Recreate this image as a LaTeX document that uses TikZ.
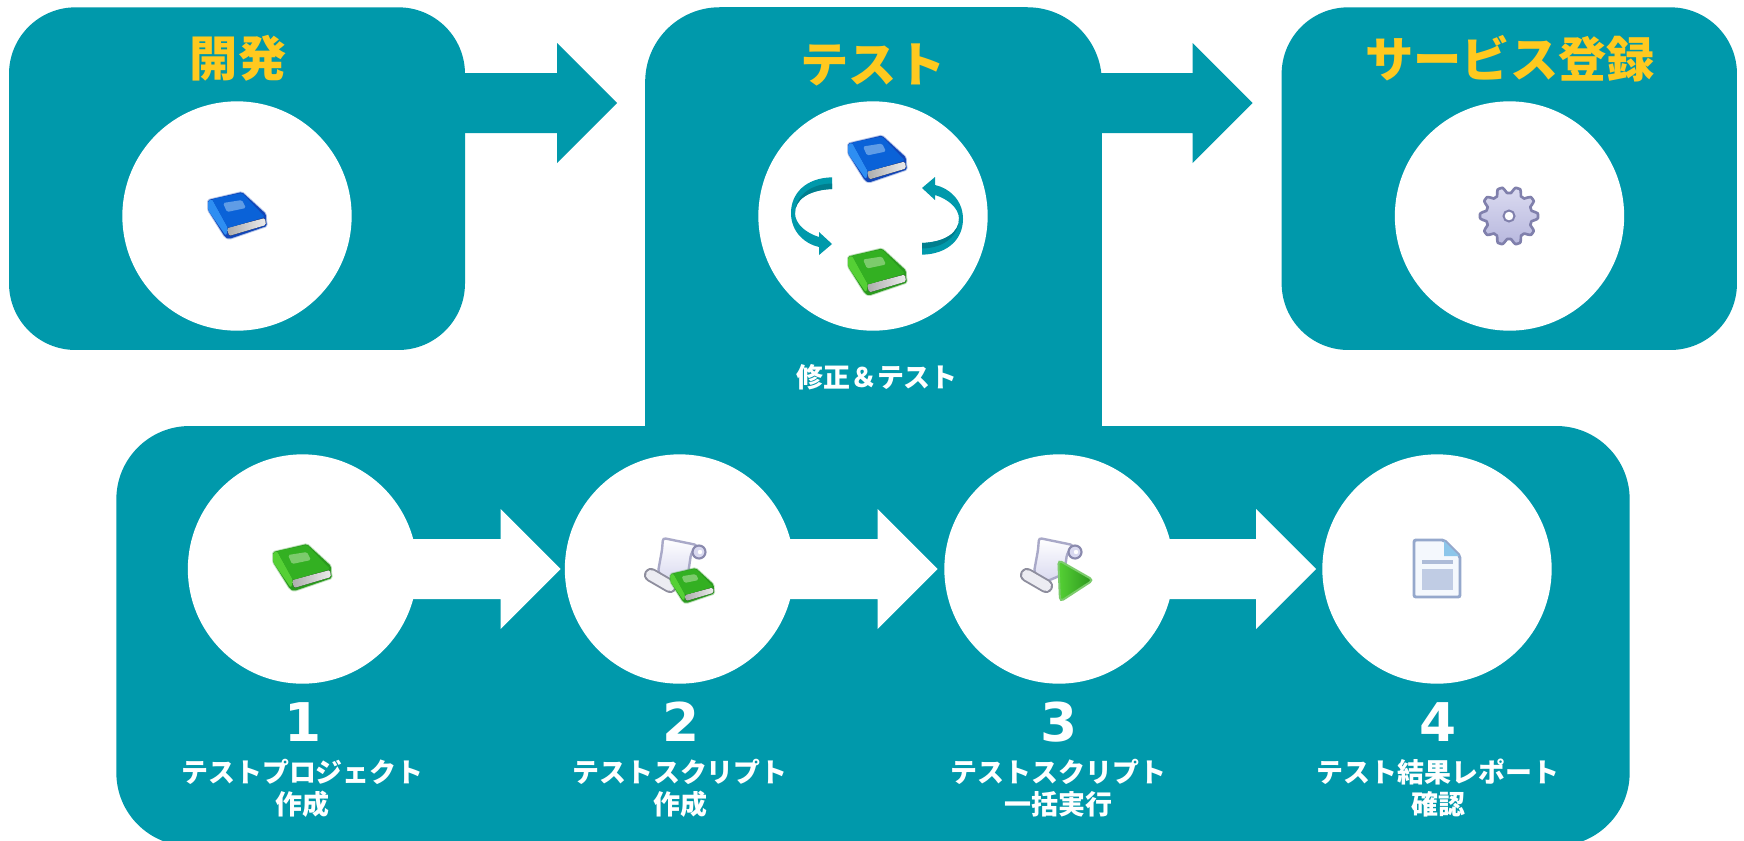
\documentclass[tikz,border=0pt]{standalone}
\usepackage{fontspec}
\usetikzlibrary{calc}
\newfontfamily\cjkfont{Noto Sans CJK JP}
\newfontfamily\digitfont{DejaVu Sans}
\definecolor{teal0}{HTML}{0099AB}
\definecolor{tealdark}{HTML}{007E8E}
\definecolor{gold0}{HTML}{FFC91F}
\definecolor{bluedark}{HTML}{1246B8}
\definecolor{bluemid}{HTML}{0A62D8}
\definecolor{bluelight}{HTML}{2E8EF2}
\definecolor{bluelabel}{HTML}{5F9CE6}
\definecolor{greendark}{HTML}{2A9A1E}
\definecolor{greenmid}{HTML}{33B022}
\definecolor{greenlight}{HTML}{55D035}
\definecolor{greenlabel}{HTML}{7CCB6C}
\definecolor{paperedge}{HTML}{A9A9C8}
\definecolor{paperlow}{HTML}{D9D9F0}
\definecolor{rolldark}{HTML}{8A8AAE}
\definecolor{rolledge}{HTML}{8E8E9E}
\definecolor{rollfill}{HTML}{ECECF2}
\definecolor{gearedge}{HTML}{8080AC}
\definecolor{geartop}{HTML}{DADAF0}
\definecolor{gearlow}{HTML}{B8B8DE}
\definecolor{docedge}{HTML}{95A8CC}
\definecolor{docfill}{HTML}{F4F8FD}
\definecolor{docfold}{HTML}{8CC6EA}
\definecolor{docband}{HTML}{AEBCD8}
\definecolor{docbox}{HTML}{C0CCE4}
\tikzset{
  x=0.75pt,y=-0.75pt,
  panel/.style={fill=teal0,inner sep=0pt,rounded corners=#1},
  disc/.style={circle,fill=white,inner sep=0pt,minimum size=172pt},
  title/.style={text=gold0,inner sep=0pt,font=\cjkfont\bfseries\fontsize{36.2}{36.2}\selectfont},
  caption/.style={text=white,inner sep=0pt,align=center,font=\cjkfont\bfseries\fontsize{20.2}{24.2}\selectfont},
  numeral/.style={text=white,inner sep=0pt,font=\digitfont\bfseries\fontsize{40}{40}\selectfont},
  tealblock/.style={fill=teal0},
  whiteblock/.style={fill=white},
}
% #1 style, #2 start node, #3 tip coordinate
\newcommand\blockarrow[3]{%
  \fill[#1] ($(#2 |- #3)+(0,-30)$) -- ($(#3)+(-60,-30)$) -- ($(#3)+(-60,-60)$) -- (#3)
    -- ($(#3)+(-60,60)$) -- ($(#3)+(-60,30)$) -- ($(#2 |- #3)+(0,30)$) -- cycle;}
% #1 x, #2 y, #3 scale, #4 colour prefix
\newcommand\drawbook[4]{%
  \begin{scope}[shift={(#1,#2)},scale=#3,rounded corners=1.2pt]
    \fill[#4dark,draw=#4dark,draw opacity=.3,line width=1.4pt]
      (-29,-16) -- (5,-24) -- (29,-2) -- (29,4) -- (30,10) -- (-8,23) -- (-12,21) -- (-29,-6) -- cycle;
    \fill[left color=gray!65,right color=gray!15] (-10,12) -- (28,2) -- (29,9) -- (-8,20) -- cycle;
    \fill[#4light] (-29,-15) -- (-25,-17) -- (-9,12) -- (-11,20) -- (-29,-6) -- cycle;
    \fill[#4mid] (-25,-17) -- (5,-23) -- (28,1) -- (-9,12) -- cycle;
    \fill[#4label] (-14,-13) -- (5,-16) -- (9,-8) -- (-10,-4) -- cycle;
  \end{scope}}
% #1 x, #2 y
\newcommand\drawscroll[2]{%
  \begin{scope}[shift={(#1,#2)}]
    \fill[top color=white,bottom color=paperlow,draw=paperedge,line width=1.8pt,rounded corners=2pt]
      (-14,-29) -- (20,-22) -- (14,-13) -- (11,7) -- (-8,15) -- (-19,5) -- (-15,-17) -- cycle;
    \fill[paperlow,draw=rolldark,line width=1.6pt] (22,-15) circle[radius=6.5];
    \fill[white] (23,-15) circle[radius=2.2];
    \draw[line width=10.5pt,line cap=round,rolledge] (-26,8) -- (-7,19);
    \draw[line width=7.6pt,line cap=round,rollfill] (-26,8) -- (-7,19);
  \end{scope}}
\begin{document}
\begin{tikzpicture}
\path[use as bounding box,clip] (0,0) rectangle (1744,840);
\fill[white] (0,0) rectangle (1744,840);

% panels
\node[panel=50pt,minimum width=342pt,minimum height=257pt] (dev) at (237,178.65) {};
\node[panel=56pt,minimum width=342.5pt,minimum height=370pt] (test) at (873.5,253.9) {};
\node[panel=50pt,minimum width=341.5pt,minimum height=257pt] (svc) at (1509.3,178.65) {};
\node[panel=55pt,minimum width=1135pt,minimum height=315pt] (flow) at (873,636) {};

% flow arrows between panels
\coordinate (tipA) at (617,103);
\coordinate (tipB) at (1252.5,103);
\blockarrow{tealblock}{dev.center}{tipA}
\blockarrow{tealblock}{test.center}{tipB}

% discs
\node[disc] (d1) at (237,216) {};
\node[disc] (d2) at (873,216) {};
\node[disc] (d3) at (1509.5,216) {};
\node[disc] (s1) at (302.5,569) {};
\node[disc] (s2) at (679.5,569) {};
\node[disc] (s3) at (1059,569) {};
\node[disc] (s4) at (1437,569) {};

% step arrows
\coordinate (tipC) at (560.7,569);
\coordinate (tipD) at (937.7,569);
\coordinate (tipE) at (1316,569);
\blockarrow{whiteblock}{s1.center}{tipC}
\blockarrow{whiteblock}{s2.center}{tipD}
\blockarrow{whiteblock}{s3.center}{tipE}

% titles
\node[title] (t1) at (238,58.5) {開発};
\node[title] (t2) at (873,65) {テスト};
\node[title] (t3) at (1510,58.5) {サービス登録};
\node[caption] (t4) at (877,377) {修正＆テスト};

% step captions
\node[numeral] (n1) at (303,722) {1};
\node[numeral] (n2) at (681,722) {2};
\node[numeral] (n3) at (1059,722) {3};
\node[numeral] (n4) at (1438,722) {4};
\node[caption] (c1) at (302.5,788) {テストプロジェクト\\作成};
\node[caption] (c2) at (680,788) {テストスクリプト\\作成};
\node[caption] (c3) at (1058.5,788) {テストスクリプト\\一括実行};
\node[caption] (c4) at (1438,788) {テスト結果レポート\\確認};

% book icons
\drawbook{237}{216}{1}{blue}
\drawbook{877}{159.5}{1}{blue}
\drawbook{877}{272.5}{1}{green}
\drawbook{302}{568}{1}{green}

% circular arrows
\foreach \a in {0,180}{
  \begin{scope}[rotate around={\a:(877,216)}]
    \fill[teal0] (832,177.3) .. controls (805,178) and (791,194) .. (791,213)
      .. controls (791,232) and (805,244) .. (819,247) -- (819,255) -- (832,244) -- (819,232) -- (819,237)
      .. controls (806,233) and (795,224) .. (795,213)
      .. controls (795,200) and (808,190) .. (832,189) -- cycle;
    \fill[tealdark] (832,183.5) .. controls (808,184) and (795,198) .. (795,213)
      .. controls (795,200) and (808,190) .. (832,189) -- cycle;
  \end{scope}}

% gear
\filldraw[top color=geartop,bottom color=gearlow,draw=gearedge,line width=2pt,line join=round]
  plot[domain=0:359,samples=180,variable=\t]
  ({1509+(26+3*max(-1,min(1,1.5*cos(10*\t))))*cos(\t)},{216+(26+3*max(-1,min(1,1.5*cos(10*\t))))*sin(\t)}) -- cycle;
\filldraw[fill=white,draw=gearedge,line width=1.5pt] (1509,216) circle[radius=5.5];

% scroll with book
\drawscroll{677}{567}
\drawbook{692}{586}{0.75}{green}

% scroll with play mark
\drawscroll{1053}{567}
\fill[left color=greenlight,right color=greenmid!85!black,draw=greenlabel,line width=1.5pt,rounded corners=3pt]
  (1058.3,560) -- (1093.3,580) -- (1060,601.7) -- cycle;

% report icon
\filldraw[fill=docfill,draw=docedge,line width=2.2pt,rounded corners=1.5pt]
  (1414,540) -- (1444,540) -- (1460,556) -- (1460,597) -- (1414,597) -- cycle;
\fill[docfold] (1444,541) -- (1459,556) -- (1444,556) -- cycle;
\fill[docband] (1422,560) rectangle (1453,564);
\fill[docbox] (1422,569) rectangle (1453,590);
\end{tikzpicture}
\end{document}
